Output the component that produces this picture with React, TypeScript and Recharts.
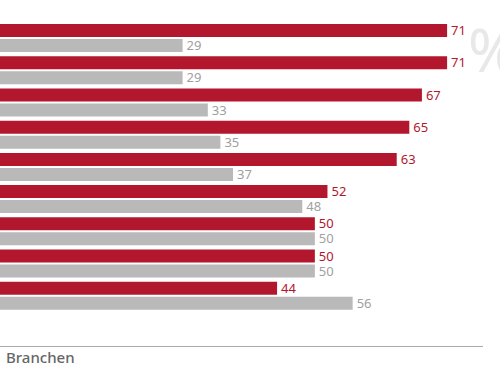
import { BarChart, Bar, XAxis, YAxis, LabelList } from 'recharts';

// Anteile je Branche (rot = ja, grau = nein), in Prozent
const categories = ['A', 'B', 'C', 'D', 'E', 'F', 'G', 'H', 'I'];
const redValues = [71, 71, 67, 65, 63, 52, 50, 50, 44];
const grayValues = [29, 29, 33, 35, 37, 48, 50, 50, 56];

const data = categories.map((c, i) => ({ name: c, red: redValues[i], gray: grayValues[i] }));

const RED = '#b3172d';
const GRAY = '#b9b9b9';
const font = '"Noto Sans", sans-serif';

if (typeof document !== 'undefined') document.body.style.margin = '0';

export default function App() {
  return (
    <div style={{ position: 'relative', width: 500, height: 383, background: '#fff', overflow: 'hidden' }}>
      <svg width={500} height={383} style={{ position: 'absolute', left: 0, top: 0 }}>
        <text x={468} y={72} fontSize={60} fill="#e8e8e8" fontFamily={font}>%</text>
      </svg>
      <div style={{ position: 'absolute', left: 0, top: 0 }}>
        <BarChart
          width={500}
          height={383}
          data={data}
          layout="vertical"
          margin={{ top: 22, right: 0, bottom: 71, left: 0 }}
          barSize={13}
          barGap={2}
        >
          <XAxis type="number" hide domain={[0, 79.4]} />
          <YAxis type="category" dataKey="name" hide />
          <Bar dataKey="red" fill={RED} isAnimationActive={false}>
            <LabelList dataKey="red" position="right" offset={4} fill={RED} fontSize={13} fontFamily={font} />
          </Bar>
          <Bar dataKey="gray" fill={GRAY} isAnimationActive={false}>
            <LabelList dataKey="gray" position="right" offset={4} fill="#a0a0a0" fontSize={13} fontFamily={font} />
          </Bar>
        </BarChart>
      </div>
      <svg width={500} height={383} style={{ position: 'absolute', left: 0, top: 0 }}>
        <line x1={0} x2={483} y1={346.5} y2={346.5} stroke="#aaaaaa" strokeWidth={1} />
        <text x={6} y={363} fontSize={15} fill="#666" fontFamily={font} fontWeight={500}>Branchen</text>
      </svg>
    </div>
  );
}
